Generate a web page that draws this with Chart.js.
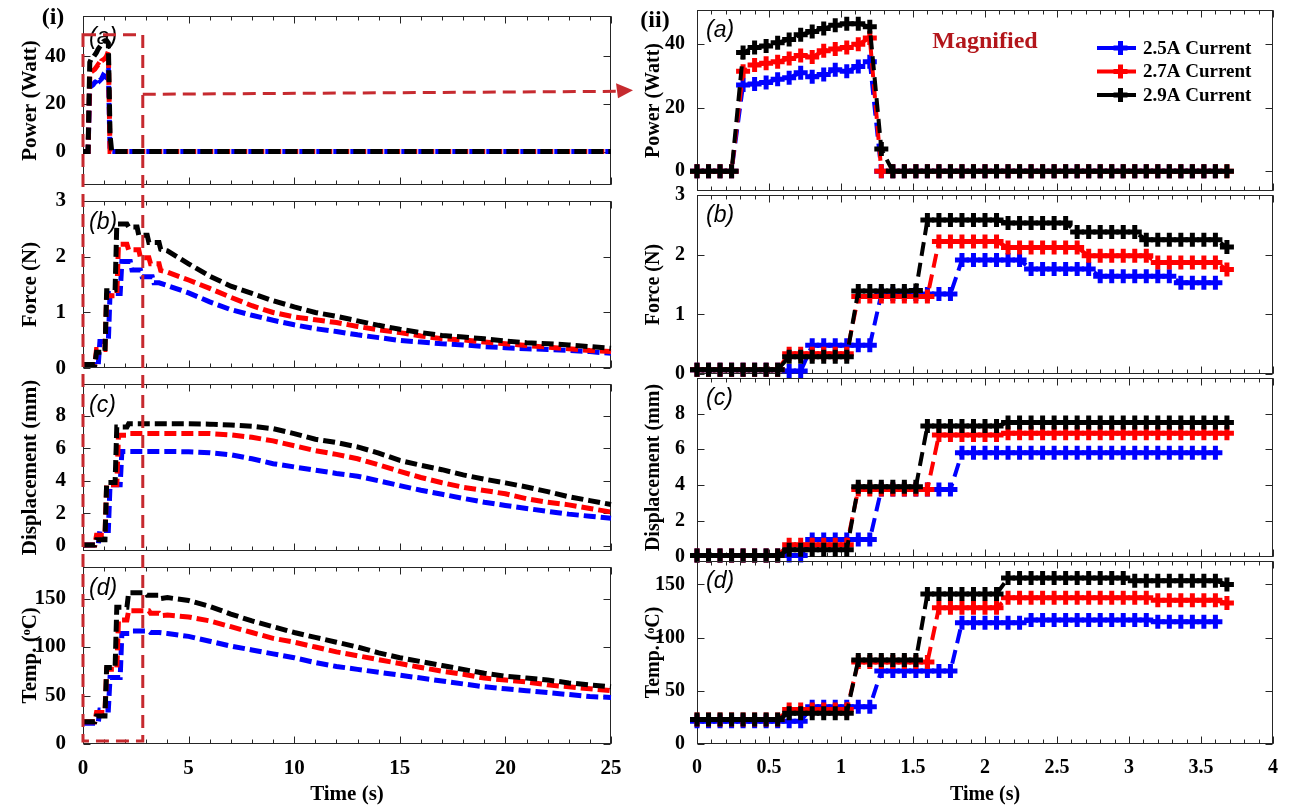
<!DOCTYPE html>
<html><head><meta charset="utf-8">
<script src="https://cdn.jsdelivr.net/npm/chart.js@4.4.1/dist/chart.umd.min.js"></script>
<style>
html,body{margin:0;padding:0;background:#fff}
body{width:1296px;height:807px;position:relative;overflow:hidden}
canvas{position:absolute;display:block}
</style></head><body>
<script>
// ================= DATA =================
// fine time grid (s) used in the magnified panels
const tFine = [0,0.08,0.16,0.24,0.32,0.40,0.48,0.56,0.64,0.72,0.80,0.88,0.96,1.04,1.12,1.20,1.28,1.36,1.44,1.52,1.60,1.68,1.76,1.84,1.92,2.00,2.08,2.16,2.24,2.32,2.40,2.48,2.56,2.64,2.72,2.80,2.88,2.96,3.04,3.12,3.20,3.28,3.36,3.44,3.52,3.60,3.68];
// coarse time grid for the long decay (left panels)
const tTail = [4,5,6,7,8,9,10,11,12,13,14,15,16,17,18,19,20,21,22,23,24,25];

const seriesLabels = ['2.5A Current','2.7A Current','2.9A Current'];

// Power (Watt)
const powerBlue  = [0,0,0,0,27.2,27.5,28,29,29.5,31,29.8,30.5,32,31.5,33,34.5,0,0,0,0,0,0,0,0,0,0,0,0,0,0,0,0,0,0,0,0,0,0,0,0,0,0,0,0,0,0];
const powerRed   = [0,0,0,0,31.5,33.5,34,34.5,35.5,36.5,36,38,38.5,39,40,42,0,0,0,0,0,0,0,0,0,0,0,0,0,0,0,0,0,0,0,0,0,0,0,0,0,0,0,0,0,0,0];
const powerBlack = [0,0,0,0,37.4,39,39.5,40.5,41.5,43,44,45,46,46.5,46.5,45.5,7,0,0,0,0,0,0,0,0,0,0,0,0,0,0,0,0,0,0,0,0,0,0,0,0,0,0,0,0,0,0];
const powerTailBlue  = [0,0,0,0,0,0,0,0,0,0,0,0,0,0,0,0,0,0,0,0,0,0];
const powerTailRed   = [0,0,0,0,0,0,0,0,0,0,0,0,0,0,0,0,0,0,0,0,0,0];
const powerTailBlack = [0,0,0,0,0,0,0,0,0,0,0,0,0,0,0,0,0,0,0,0,0,0];

// Force (N)
const forceBlue  = [0.07,0.07,0.07,0.07,0.07,0.07,0.07,0.07,0.05,0.05,0.48,0.48,0.48,0.48,0.48,0.48,1.34,1.34,1.34,1.34,1.34,1.34,1.34,1.91,1.91,1.91,1.91,1.91,1.91,1.76,1.76,1.76,1.76,1.76,1.76,1.64,1.64,1.64,1.64,1.64,1.64,1.64,1.53,1.53,1.53,1.53];
const forceRed   = [0.07,0.07,0.07,0.07,0.07,0.07,0.07,0.07,0.34,0.34,0.34,0.34,0.34,0.34,1.30,1.30,1.30,1.30,1.30,1.30,1.30,2.22,2.22,2.22,2.22,2.22,2.22,2.12,2.12,2.12,2.12,2.12,2.12,2.12,1.98,1.98,1.98,1.98,1.98,1.98,1.87,1.87,1.87,1.87,1.87,1.87,1.75];
const forceBlack = [0.07,0.07,0.07,0.07,0.07,0.07,0.07,0.07,0.29,0.29,0.29,0.29,0.29,0.29,1.39,1.39,1.39,1.39,1.39,1.40,2.58,2.58,2.58,2.58,2.58,2.58,2.58,2.53,2.53,2.53,2.53,2.53,2.53,2.38,2.38,2.38,2.38,2.38,2.38,2.25,2.25,2.25,2.25,2.25,2.25,2.25,2.13];
const forceTailBlue  = [1.48,1.35,1.19,1.05,0.95,0.86,0.78,0.71,0.66,0.60,0.55,0.50,0.47,0.44,0.42,0.39,0.37,0.35,0.34,0.32,0.30,0.27];
const forceTailRed   = [1.72,1.58,1.43,1.27,1.12,1.00,0.92,0.87,0.82,0.75,0.69,0.64,0.58,0.53,0.51,0.47,0.44,0.41,0.38,0.35,0.32,0.30];
const forceTailBlack = [2.10,1.87,1.65,1.47,1.34,1.21,1.10,1.00,0.93,0.85,0.77,0.70,0.64,0.59,0.56,0.53,0.49,0.46,0.44,0.42,0.39,0.36];

// Displacement (mm)
const dispBlue  = [0.05,0.05,0.05,0.05,0.05,0.05,0.05,0.05,0.05,0.05,0.95,0.95,0.95,0.95,0.95,0.95,3.75,3.75,3.75,3.75,3.75,3.75,3.75,5.8,5.8,5.8,5.8,5.8,5.8,5.8,5.8,5.8,5.8,5.8,5.8,5.8,5.8,5.8,5.8,5.8,5.8,5.8,5.8,5.8,5.8,5.8];
const dispRed   = [0.05,0.05,0.05,0.05,0.05,0.05,0.05,0.05,0.65,0.65,0.65,0.65,0.65,0.65,3.75,3.75,3.75,3.75,3.75,3.75,3.75,6.8,6.8,6.8,6.8,6.8,6.8,6.9,6.9,6.9,6.9,6.9,6.9,6.9,6.9,6.9,6.9,6.9,6.9,6.9,6.9,6.9,6.9,6.9,6.9,6.9,6.9];
const dispBlack = [0.05,0.05,0.05,0.05,0.05,0.05,0.05,0.05,0.38,0.38,0.38,0.38,0.38,0.38,3.9,3.9,3.9,3.9,3.9,3.9,7.3,7.3,7.3,7.3,7.3,7.3,7.3,7.5,7.5,7.5,7.5,7.5,7.5,7.5,7.5,7.5,7.5,7.5,7.5,7.5,7.5,7.5,7.5,7.5,7.5,7.5,7.5];
const dispTailBlue  = [5.80,5.78,5.72,5.60,5.35,5.05,4.85,4.65,4.45,4.28,4.00,3.70,3.42,3.17,2.92,2.68,2.48,2.30,2.12,1.95,1.82,1.69];
const dispTailRed   = [6.90,6.90,6.90,6.82,6.67,6.45,6.15,5.85,5.62,5.35,4.98,4.58,4.20,3.88,3.60,3.40,3.20,2.90,2.68,2.52,2.30,2.08];
const dispTailBlack = [7.50,7.50,7.48,7.43,7.35,7.20,6.90,6.55,6.35,6.08,5.70,5.25,4.95,4.68,4.36,4.10,3.87,3.62,3.33,3.02,2.78,2.54];

// Temperature (oC)
const tempBlue  = [21.5,21.5,21.5,21.5,21.5,21.5,21.5,21.5,21.5,21.5,35,35,35,35,35,35,68.5,68.5,68.5,68.5,68.5,68.5,68.5,114,114,114,114,114,114,116.5,116.5,116.5,116.5,116.5,116.5,116.5,116.5,116.5,116.5,116.5,115,115,115,115,115,115];
const tempRed   = [23,23,23,23,23,23,23,23,32.5,32.5,32.5,32.5,32.5,32.5,77,77,77,77,77,77,77,128,128,128,128,128,128,137.5,137.5,137.5,137.5,137.5,137.5,137.5,137.5,137.5,137.5,137.5,137.5,137.5,135,135,135,135,135,135,132.5];
const tempBlack = [23,23,23,23,23,23,23,23,29,29,29,29,29,29,79,79,79,79,79,79,141,141,141,141,141,141,141,156,156,156,156,156,156,156,156,156,156,156,153.5,153.5,153.5,153.5,153.5,153.5,153.5,153.5,150];
const tempTailBlue  = [114,111,106,101,97,93,89,84,80,77,74,71,68,65,62,59,57,55,53,51,49,48];
const tempTailRed   = [133,131,127,121,115,109,105,100,95,91,87,83,79,75,72,68,66,64,61,59,57,55];
const tempTailBlack = [151,148,142,134,127,121,115,110,105,100,94,89,85,81,77,73,70,68,66,63,61,59];

// axis text
const yTitles = ['Power (Watt)','Force (N)','Displacement (mm)','Temp. (\u1D52C)'];
const panelTags = ['(a)','(b)','(c)','(d)'];
const xTitle = 'Time (s)';

// ================= TABLES FOR THE LIBRARY =================
const FINE = [
  [powerBlue, powerRed, powerBlack],
  [forceBlue, forceRed, forceBlack],
  [dispBlue, dispRed, dispBlack],
  [tempBlue, tempRed, tempBlack]];
const TAIL = [
  [powerTailBlue, powerTailRed, powerTailBlack],
  [forceTailBlue, forceTailRed, forceTailBlack],
  [dispTailBlue, dispTailRed, dispTailBlack],
  [tempTailBlue, tempTailRed, tempTailBlack]];

// ================= STYLE / LAYOUT =================
const SERIF = '"Liberation Serif","Times New Roman",serif';
const SANS = '"Liberation Sans",Arial,sans-serif';
const COLORS = ['#0000ff','#ff0000','#000000'];
const ORDERS = [3,2,1];
const PAD = 14;
const TOPS = [8,193,376,559], BOTS = [193,376,559,744];
const COLS = [
  {canvasLeft:0, width:640, padL:14, yw:69, padR:29, xMax:25, xStep:5, minor:1, yPad:9, fs:21, tagDx:6, tagDy:22,
   y:[{min:-14.2,max:57,step:20},{min:0,max:3,step:1},{min:-0.34,max:9.97,step:2},{min:0,max:183,step:50}]},
  {canvasLeft:628, width:668, padL:10, yw:59, padR:23, xMax:4, xStep:0.5, minor:0.1, yPad:4, fs:20, tagDx:9, tagDy:21,
   y:[{min:-6.2,max:50.8,step:20},{min:0,max:3,step:1},{min:-0.03,max:9.99,step:2},{min:0,max:172,step:50}]}
];

Chart.defaults.font.family = SERIF;
Chart.defaults.color = '#000';

const framePlugin = {
  id:'frame',
  beforeDatasetsDraw(chart, args, opts){
    const {ctx, chartArea:a, scales:{x,y}} = chart;
    ctx.save();
    ctx.strokeStyle = '#262626'; ctx.lineWidth = 1; ctx.setLineDash([]);
    const L = Math.round(a.left)+0.5, R = Math.round(a.right)-0.5, T = Math.round(a.top)+0.5, B = Math.round(a.bottom)-0.5;
    ctx.strokeRect(L, T, R-L, B-T);
    ctx.beginPath();
    const maj = 7, mi = 4;
    x.ticks.forEach(t => { const p = Math.round(x.getPixelForValue(t.value))+0.5;
      ctx.moveTo(p,B); ctx.lineTo(p,B-maj); ctx.moveTo(p,T); ctx.lineTo(p,T+maj); });
    const n = Math.round((x.max-x.min)/opts.minor);
    for (let k=0;k<=n;k++){ const p = Math.round(x.getPixelForValue(x.min+k*opts.minor))+0.5;
      ctx.moveTo(p,B); ctx.lineTo(p,B-mi); ctx.moveTo(p,T); ctx.lineTo(p,T+mi); }
    y.ticks.forEach(t => { const p = Math.round(y.getPixelForValue(t.value))+0.5;
      ctx.moveTo(L,p); ctx.lineTo(L+maj,p); ctx.moveTo(R,p); ctx.lineTo(R-maj,p); });
    ctx.stroke();
    ctx.restore();
  }
};
const tagPlugin = {
  id:'panelTag',
  afterDraw(chart, args, opts){
    const {ctx, chartArea:a} = chart;
    ctx.save();
    ctx.font = 'italic 23px '+SANS; ctx.fillStyle = '#000'; ctx.textBaseline = 'middle'; ctx.textAlign = 'left';
    ctx.fillText(opts.text, a.left+opts.dx, a.top+opts.dy);
    ctx.restore();
  }
};
function drawPlus(ctx, x, y, r){ ctx.beginPath(); ctx.moveTo(x-r,y); ctx.lineTo(x+r,y); ctx.moveTo(x,y-r); ctx.lineTo(x,y+r); ctx.stroke(); }
const legendPlugin = {
  id:'sideLegend',
  afterDraw(chart){
    const {ctx, chartArea:a} = chart;
    ctx.save();
    ctx.font = 'bold 24px '+SERIF; ctx.fillStyle = '#b3161b'; ctx.textAlign = 'center'; ctx.textBaseline = 'middle';
    ctx.fillText('Magnified', a.left+288, a.top+32);
    chart.data.datasets.forEach((d,i) => {
      const yy = a.top + 38 + i*23.5;
      const x0 = a.right-176, x1 = a.right-133;
      ctx.strokeStyle = d.borderColor; ctx.lineWidth = 4; ctx.setLineDash([17,5]);
      ctx.beginPath(); ctx.moveTo(x0,yy); ctx.lineTo(x1,yy); ctx.stroke();
      ctx.setLineDash([]); ctx.lineWidth = 5;
      drawPlus(ctx, (x0+x1)/2+2, yy, 7);
      ctx.font = 'bold 19px '+SERIF; ctx.fillStyle = '#000'; ctx.textAlign = 'left';
      ctx.fillText(d.label, a.right-130, yy+1);
    });
    ctx.restore();
  }
};
const fmtTick = v => String(Number(Number(v).toFixed(2)));

const charts = [[],[]];
function makeChart(col, row){
  const C = COLS[col];
  const isBottom = row === 3;
  const top = TOPS[row]-PAD, bottom = isBottom ? 807 : BOTS[row]+PAD;
  const cv = document.createElement('canvas');
  cv.width = C.width; cv.height = bottom-top;
  cv.style.left = C.canvasLeft+'px'; cv.style.top = top+'px';
  cv.style.width = C.width+'px'; cv.style.height = (bottom-top)+'px';
  document.body.appendChild(cv);
  const datasets = [0,1,2].map(s => {
    const ys = FINE[row][s];
    let pts = ys.map((v,i) => ({x:tFine[i], y:v}));
    if (col === 0) pts = pts.concat(TAIL[row][s].map((v,i) => ({x:tTail[i], y:v})));
    const d = {label:seriesLabels[s], data:pts, borderColor:COLORS[s], backgroundColor:COLORS[s],
      pointBorderColor:COLORS[s], pointBackgroundColor:COLORS[s], order:ORDERS[s], clip:false, tension:0, fill:false};
    if (col === 0) Object.assign(d, {borderWidth:5, borderDash:[12,5], pointRadius:0, pointHoverRadius:0});
    else Object.assign(d, {borderWidth:4, borderDash:[14,7], pointStyle:'cross', pointRadius:7, pointHoverRadius:7, pointBorderWidth:5});
    return d;
  });
  const yc = C.y[row];
  const tickFont = {family:SERIF, weight:'bold', size:C.fs};
  const ch = new Chart(cv, {
    type:'line',
    data:{datasets},
    options:{
      responsive:false, animation:false, devicePixelRatio:1, events:[],
      layout:{padding:{left:C.padL, right:C.padR, top:PAD, bottom:isBottom?0:PAD}},
      plugins:{legend:{display:false}, tooltip:{enabled:false},
        frame:{minor:C.minor}, panelTag:{text:panelTags[row], dx:C.tagDx, dy:C.tagDy}},
      scales:{
        x:{type:'linear', min:0, max:C.xMax, grid:{display:false}, border:{display:false},
          ticks:{display:isBottom, stepSize:C.xStep, includeBounds:false, autoSkip:false, maxRotation:0, padding:4, font:tickFont, color:'#000', callback:fmtTick},
          title:{display:isBottom, text:xTitle, font:tickFont, padding:{top:0,bottom:0}, color:'#000'},
          afterFit:s => { s.height = isBottom ? 807-744 : 0; }},
        y:{type:'linear', min:yc.min, max:yc.max, grid:{display:false}, border:{display:false},
          ticks:{stepSize:yc.step, includeBounds:false, padding:C.yPad, font:tickFont, color:'#000', callback:fmtTick},
          title:{display:true, text:yTitles[row], font:tickFont, padding:{top:4,bottom:4}, color:'#000'},
          afterFit:s => { s.width = C.yw; }}
      }
    },
    plugins:[framePlugin, tagPlugin].concat(col===1 && row===0 ? [legendPlugin] : [])
  });
  charts[col][row] = ch;
}
for (let c=0;c<2;c++) for (let r=0;r<4;r++) makeChart(c,r);

// ================= OVERLAY: magnification box, arrow, (i)/(ii) =================
const RECT_T_END = 2.83, RECT_P_TOP = 49, RECT_TEMP_BOTTOM = 3, ARROW_P = 24;
(function(){
  const ov = document.createElement('canvas');
  ov.width = 1296; ov.height = 807;
  ov.style.left = '0px'; ov.style.top = '0px'; ov.style.zIndex = 10;
  document.body.appendChild(ov);
  const ctx = ov.getContext('2d');
  const ca = charts[0][0], cd = charts[0][3], cra = charts[1][0];
  const offA = TOPS[0]-PAD, offD = TOPS[3]-PAD, lx = COLS[0].canvasLeft;
  const xL = lx + ca.scales.x.getPixelForValue(0);
  const xR = lx + ca.scales.x.getPixelForValue(RECT_T_END);
  const yT = offA + ca.scales.y.getPixelForValue(RECT_P_TOP);
  const yB = offD + cd.scales.y.getPixelForValue(RECT_TEMP_BOTTOM);
  const yA = offA + ca.scales.y.getPixelForValue(ARROW_P);
  const xTip = COLS[1].canvasLeft + cra.chartArea.left - 64;
  const RED = '#c62a2f';
  ctx.strokeStyle = RED; ctx.lineWidth = 3; ctx.setLineDash([13,7]);
  ctx.strokeRect(xL, yT, xR-xL, yB-yT);
  ctx.beginPath(); ctx.moveTo(xR, yA); ctx.lineTo(xTip-16, yA-3); ctx.stroke();
  ctx.setLineDash([]);
  ctx.fillStyle = RED;
  ctx.beginPath(); ctx.moveTo(xTip, yA-4); ctx.lineTo(xTip-17, yA-11); ctx.lineTo(xTip-15, yA+4); ctx.closePath(); ctx.fill();
  ctx.fillStyle = '#000'; ctx.font = 'bold 24px '+SERIF; ctx.textAlign = 'center'; ctx.textBaseline = 'middle';
  ctx.fillText('(i)', 53, 18);
  ctx.fillText('(ii)', 655, 21);
})();
</script>
</body></html>
